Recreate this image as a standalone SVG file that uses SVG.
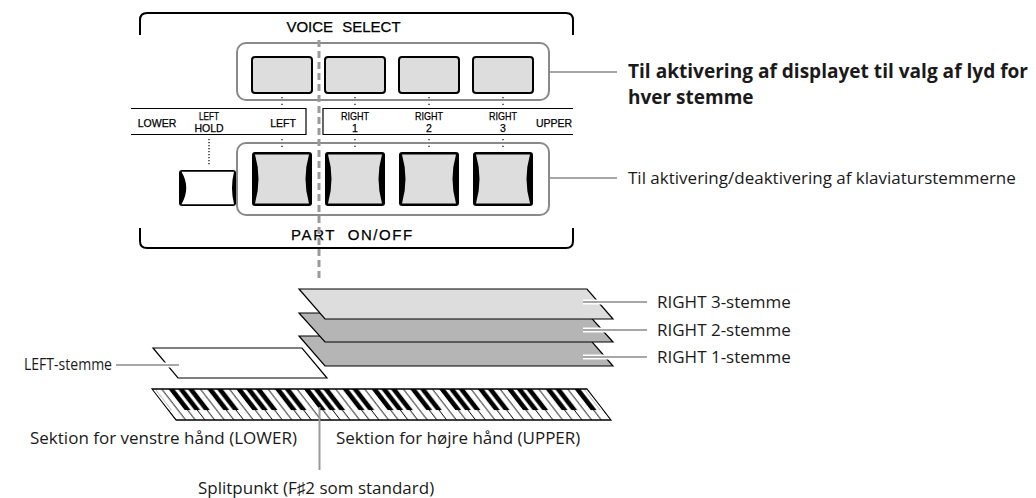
<svg xmlns="http://www.w3.org/2000/svg" width="1036" height="498" viewBox="0 0 1036 498">
  <defs>
    <style>
      .panel{font-family:"Liberation Sans",Arial,sans-serif;fill:#000;stroke:#000;stroke-width:0.25}
      .lbl{font-size:10.5px;text-anchor:middle}
      .title{font-size:15px}
      .note{font-family:"Open Sans","Noto Sans",sans-serif;font-size:17px;fill:#1a1a1a}
      .bold{font-weight:bold;font-size:19px}
      .frame{fill:none;stroke:#000;stroke-width:2}
      .box{fill:none;stroke:#000;stroke-width:1.2}
      .grp{fill:none;stroke:#8a8a8a;stroke-width:2}
      .vbtn{fill:#dcdddc;stroke:#000;stroke-width:2}
      .lead{stroke:#8a8a8a;stroke-width:1.6;fill:none}
      .halo{stroke:#fff;stroke-width:5;fill:none}
      .dots{stroke:#000;stroke-width:1.2;stroke-dasharray:1.2 5.5;fill:none}
      .layer{stroke:#000;stroke-width:1.2}
      .split{stroke:#9a9a9a;stroke-width:3;stroke-dasharray:7 4;fill:none}
    </style>
    <!-- one octave of keys (C..B), white key width 9.667 -->
    <pattern id="octave" patternUnits="userSpaceOnUse" x="-19.333" y="0" width="67.667" height="31">
      <rect width="67.667" height="31" fill="#fff"/>
      <g fill="#000">
        <rect x="0" width="0.5" height="31"/>
        <rect x="9.167" width="1" height="31"/>
        <rect x="18.833" width="1" height="31"/>
        <rect x="28.5" width="1" height="31"/>
        <rect x="38.167" width="1" height="31"/>
        <rect x="47.833" width="1" height="31"/>
        <rect x="57.5" width="1" height="31"/>
        <rect x="67.167" width="0.5" height="31"/>
        <rect x="6.767" width="5.8" height="21"/>
        <rect x="16.433" width="5.8" height="21"/>
        <rect x="35.767" width="5.8" height="21"/>
        <rect x="45.433" width="5.8" height="21"/>
        <rect x="55.1" width="5.8" height="21"/>
      </g>
    </pattern>
    <!-- PART ON/OFF button: thick black sides, grey face -->
    <g id="partKey">
      <rect width="60" height="54" rx="3" fill="#000"/>
      <path d="M3,2.5 Q10,27 3,51.5 H57 Q50,27 57,2.5 Z" fill="#dcdddc"/>
    </g>
  </defs>

  <!-- panel frame -->
  <g id="voice-select-frame">
    <path class="frame" d="M140,35 V20 Q140,13 147,13 H566 Q573,13 573,20 V35"/>
    <text class="panel title" x="343.5" y="32" text-anchor="middle" word-spacing="5">VOICE SELECT</text>
  </g>
  <g id="part-frame">
    <path class="frame" d="M140,228 V241 Q140,248 147,248 H566 Q573,248 573,241 V228"/>
    <text class="panel title" x="352.5" y="240" font-size="16" text-anchor="middle" letter-spacing="1.6" word-spacing="6">PART ON/OFF</text>
  </g>

  <!-- label strip -->
  <g id="label-strip">
    <path class="box" d="M131,108.5 H306 V134.5 H131"/>
    <path class="box" d="M573,108.5 H323 V134.5 H573"/>
    <text class="panel lbl" x="157" y="127">LOWER</text>
    <text class="panel lbl" x="209" y="120" textLength="20" lengthAdjust="spacingAndGlyphs">LEFT</text>
    <text class="panel lbl" x="209" y="131.5">HOLD</text>
    <text class="panel lbl" x="283" y="127">LEFT</text>
    <text class="panel lbl" x="355" y="120" textLength="28" lengthAdjust="spacingAndGlyphs">RIGHT</text>
    <text class="panel lbl" x="355" y="131.5">1</text>
    <text class="panel lbl" x="429" y="120" textLength="28" lengthAdjust="spacingAndGlyphs">RIGHT</text>
    <text class="panel lbl" x="429" y="131.5">2</text>
    <text class="panel lbl" x="503" y="120" textLength="28" lengthAdjust="spacingAndGlyphs">RIGHT</text>
    <text class="panel lbl" x="503" y="131.5">3</text>
    <text class="panel lbl" x="554" y="127">UPPER</text>
  </g>

  <!-- voice buttons -->
  <g id="voice-buttons">
    <rect class="grp" x="237" y="43" width="312" height="57" rx="9"/>
    <rect class="vbtn" x="252" y="57" width="60" height="36" rx="3"/>
    <rect class="vbtn" x="325" y="57" width="60" height="36" rx="3"/>
    <rect class="vbtn" x="399" y="57" width="60" height="36" rx="3"/>
    <rect class="vbtn" x="473" y="57" width="60" height="36" rx="3"/>
    <path class="dots" d="M282,97 V106 M355,97 V106 M429,97 V106 M503,97 V106"/>
  </g>

  <!-- part on/off buttons -->
  <g id="part-buttons">
    <rect class="grp" x="237" y="143" width="312" height="72" rx="9"/>
    <path class="dots" d="M282,139 V150 M355,139 V150 M429,139 V150 M503,139 V150"/>
    <use href="#partKey" x="252" y="152"/>
    <use href="#partKey" x="325" y="152"/>
    <use href="#partKey" x="399" y="152"/>
    <use href="#partKey" x="473" y="152"/>
  </g>

  <!-- left hold button -->
  <g id="left-hold">
    <path d="M209,139 V166" stroke="#000" stroke-width="1.2" stroke-dasharray="1.2 1.8" fill="none"/>
    <rect x="179" y="170" width="57" height="36" rx="3" fill="#000"/>
    <path d="M181.5,171.8 Q191,188 181.5,204.2 H234 Q230,188 234,171.8 Z" fill="#fff"/>
  </g>

  <!-- split marker -->
  <g id="split-marker">
    <path class="split" d="M319,40 V278"/>
  </g>

  <!-- voice layers -->
  <g id="layer-right1">
    <polygon class="layer" points="299,336 587,336 613,366 325,366" fill="#b4b5b4"/>
  </g>
  <g id="layer-right2">
    <polygon class="layer" points="299,313 587,313 613,342 325,342" fill="#b4b5b4"/>
  </g>
  <g id="layer-right3">
    <polygon class="layer" points="299,289 587,289 613,319 325,319" fill="#dcdddc"/>
  </g>
  <g id="layer-left">
    <polygon class="layer" points="153,348 302,348 327,378 178,378" fill="#fff"/>
  </g>

  <!-- keyboard, 76 keys E0..G6 -->
  <g id="keyboard" transform="translate(152,389) skewX(37.75)">
    <rect width="435" height="31" fill="url(#octave)"/>
    <rect width="2.9" height="21" fill="#fff"/>
    <rect x="432.1" width="2.9" height="21" fill="#fff"/>
    <rect width="435" height="31" fill="none" stroke="#000" stroke-width="1.3"/>
  </g>

  <!-- leader lines -->
  <g id="connectors">
    <path class="lead" d="M549,72 H617"/>
    <path class="lead" d="M549,178 H617"/>
    <path class="halo" d="M583,302 H647 M583,330 H647 M583,357 H647 M162,365 H179"/>
    <path class="lead" d="M583,302 H647 M583,330 H647 M583,357 H647"/>
    <path class="lead" d="M116,365 H179"/>
    <path d="M319.5,407 V470" stroke="#9a9a9a" stroke-width="2" fill="none"/>
  </g>

  <!-- annotations -->
  <g id="notes">
    <text class="note bold" x="628" y="78" textLength="400" lengthAdjust="spacingAndGlyphs">Til aktivering af displayet til valg af lyd for</text>
    <text class="note bold" x="628" y="104">hver stemme</text>
    <text class="note" x="628" y="184">Til aktivering/deaktivering af klaviaturstemmerne</text>
    <text class="note" x="657" y="308">RIGHT 3-stemme</text>
    <text class="note" x="657" y="336">RIGHT 2-stemme</text>
    <text class="note" x="657" y="363">RIGHT 1-stemme</text>
    <text class="note" x="112" y="370" text-anchor="end" font-size="16" textLength="88" lengthAdjust="spacingAndGlyphs">LEFT-stemme</text>
    <text class="note" x="30" y="444">Sektion for venstre hånd (LOWER)</text>
    <text class="note" x="336" y="444">Sektion for højre hånd (UPPER)</text>
    <text class="note" x="198" y="494">Splitpunkt (F♯2 som standard)</text>
  </g>
</svg>
